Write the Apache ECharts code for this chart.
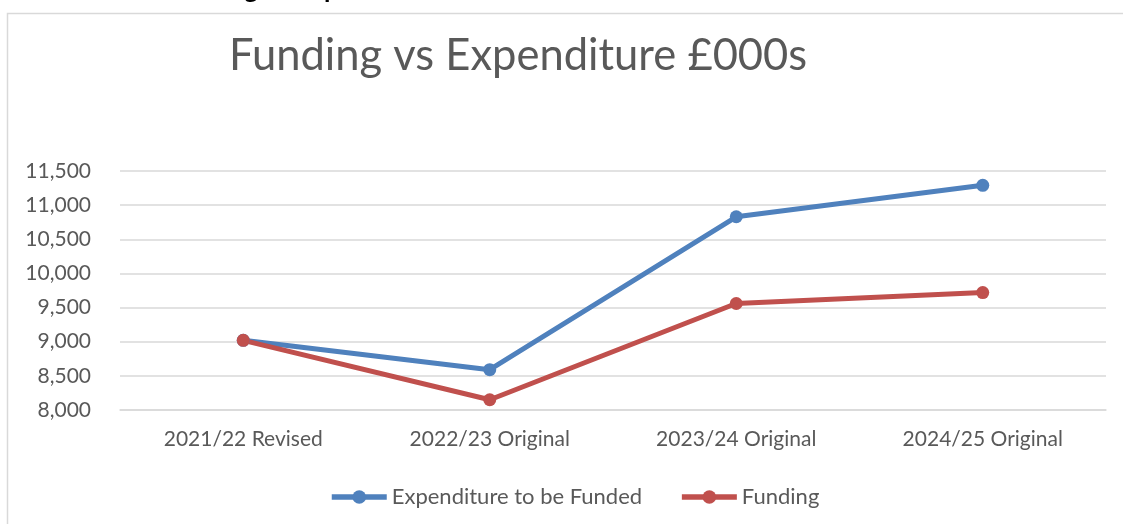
<!DOCTYPE html>
<html>
<head>
<meta charset="utf-8">
<title>Funding vs Expenditure</title>
<script src="https://cdn.jsdelivr.net/npm/echarts@6/dist/echarts.min.js"></script>
<style>
  html, body { margin: 0; padding: 0; background: #fff; }
  #chart { width: 1123px; height: 524px; }
</style>
</head>
<body>
<div id="chart"></div>
<script>
// chart data
var categories = ['2021/22 Revised', '2022/23 Original', '2023/24 Original', '2024/25 Original']
var expenditure = [9020, 8590, 10830, 11290]
var funding = [9020, 8150, 9560, 9720]

var font = 'Lato'
var textColor = '#595959'

var chart = echarts.init(document.getElementById('chart'))
chart.setOption({
  animation: false,
  backgroundColor: '#fff',
  title: {
    text: 'Funding vs Expenditure £000s',
    left: 224,
    top: 29,
    textStyle: { fontFamily: font, fontSize: 43.5, fontWeight: 'normal', color: textColor }
  },
  graphic: [
    // frame of the chart area (right and bottom run off the picture)
    {
      type: 'rect',
      shape: { x: 7.5, y: 13.5, width: 1400, height: 800 },
      style: { fill: 'none', stroke: '#d9d9d9', lineWidth: 1.5 },
      silent: true
    },
    // heading of the document, cut off by the top edge
    {
      type: 'text',
      left: 165,
      top: -23,
      style: { text: 'Funding vs Expenditure', font: 'bold 26px ' + font, fill: '#000' },
      silent: true
    }
  ],
  grid: { left: 120, right: 17, top: 171, bottom: 114 },
  legend: {
    bottom: 11,
    left: 324,
    itemWidth: 55,
    itemHeight: 17,
    itemGap: 37,
    lineStyle: { width: 5.5 },
    textStyle: { fontFamily: font, fontSize: 22, color: textColor },
    data: ['Expenditure to be Funded', 'Funding']
  },
  xAxis: {
    type: 'category',
    data: categories,
    axisLine: { lineStyle: { color: '#d9d9d9', width: 1.5 } },
    axisTick: { show: false },
    axisLabel: { fontFamily: font, fontSize: 21, color: textColor, margin: 19 }
  },
  yAxis: {
    type: 'value',
    min: 8000,
    max: 11500,
    interval: 500,
    axisLine: { show: false },
    axisTick: { show: false },
    splitLine: { lineStyle: { color: '#d9d9d9', width: 1.5 } },
    axisLabel: {
      fontFamily: font,
      fontSize: 21,
      color: textColor,
      margin: 29,
      formatter: function (v) { return v.toLocaleString('en-GB') }
    }
  },
  series: [
    {
      name: 'Expenditure to be Funded',
      type: 'line',
      data: expenditure,
      symbol: 'circle',
      symbolSize: 13,
      lineStyle: { width: 5, color: '#4f81bd' },
      itemStyle: { color: '#4f81bd' }
    },
    {
      name: 'Funding',
      type: 'line',
      data: funding,
      symbol: 'circle',
      symbolSize: 13,
      lineStyle: { width: 5, color: '#c0504d' },
      itemStyle: { color: '#c0504d' }
    }
  ]
})
</script>
</body>
</html>
